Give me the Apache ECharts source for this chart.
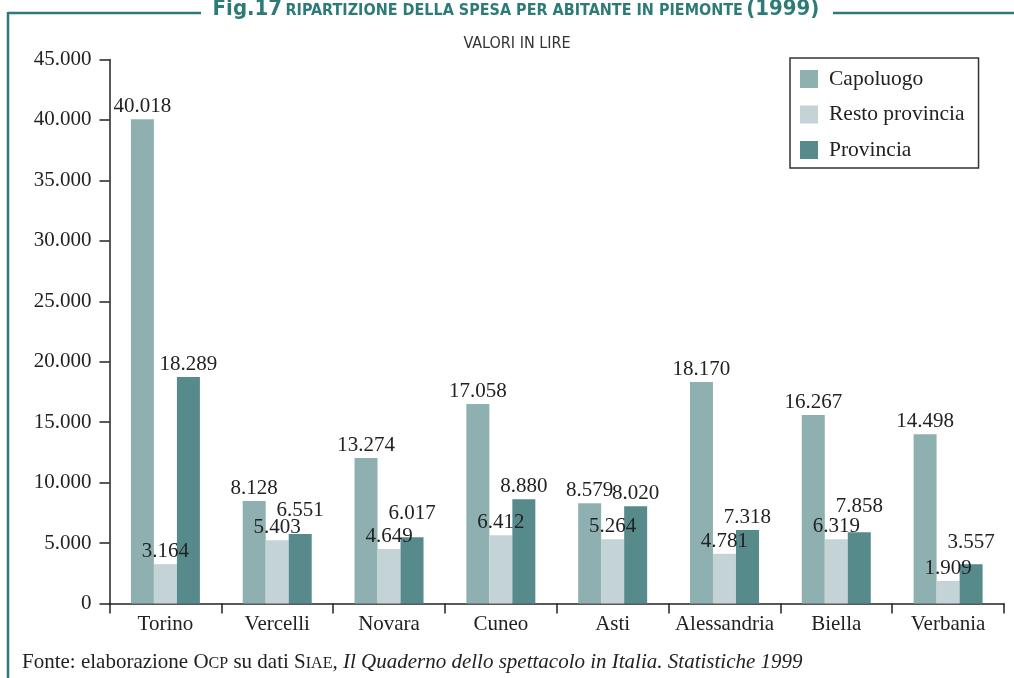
<!DOCTYPE html>
<html>
<head>
<meta charset="utf-8">
<script src="https://cdn.jsdelivr.net/npm/echarts@6/dist/echarts.min.js"></script>
<style>
  html, body { margin: 0; padding: 0; background: #ffffff; }
  #chart { width: 1014px; height: 678px; }
</style>
</head>
<body>
<div id="chart"></div>
<script>
// ---- Data ----
const categories = ['Torino', 'Vercelli', 'Novara', 'Cuneo', 'Asti', 'Alessandria', 'Biella', 'Verbania'];
const seriesNames = ['Capoluogo', 'Resto provincia', 'Provincia'];
// bar heights as drawn in the picture (lire)
const capoluogo = [40050, 8470, 12030, 16500, 8300, 18320, 15590, 14010];
const restoProvincia = [3250, 5240, 4500, 5650, 5320, 4110, 5320, 1870];
const provincia = [18730, 5740, 5490, 8630, 8050, 6070, 5900, 3250];
// printed value labels (lire)
const capoluogoLabels = [40018, 8128, 13274, 17058, 8579, 18170, 16267, 14498];
const restoProvinciaLabels = [3164, 5403, 4649, 6412, 5264, 4781, 6319, 1909];
const provinciaLabels = [18289, 6551, 6017, 8880, 8020, 7318, 7858, 3557];
const yTicks = [0, 5000, 10000, 15000, 20000, 25000, 30000, 35000, 40000, 45000];

// ---- Styling ----
const colors = ['#8fb0b1', '#c3d3d6', '#578b8b'];
const teal = '#2d7b78';
const ink = '#222222';
const serif = '"Liberation Serif", "DejaVu Serif", serif';
const cond = '"DejaVu Sans Condensed", "Liberation Sans Narrow", "Roboto", sans-serif';

function fmt(v) {
  return String(Math.round(v)).replace(/\B(?=(\d{3})+(?!\d))/g, '.');
}

const provLift = [0, 11, 11, 0, 0, 0, 13, 9];

function makeSeries(name, values, labels, color, lift) {
  return {
    name: name,
    type: 'bar',
    barWidth: 23,
    barGap: '0%',
    itemStyle: { color: color },
    data: values.map((v, i) => ({
      value: v,
      label: lift ? { offset: [0, -lift[i]] } : undefined
    })),
    label: {
      show: true,
      position: 'top',
      distance: 2,
      fontFamily: serif,
      fontSize: 21,
      color: ink,
      formatter: p => fmt(labels[p.dataIndex])
    }
  };
}

const chart = echarts.init(document.getElementById('chart'), null, { renderer: 'canvas' });

chart.setOption({
  backgroundColor: '#ffffff',
  animation: false,
  grid: { left: 109.5, right: 10, top: 59.5, bottom: 74.5, containLabel: false },
  legend: {
    orient: 'vertical',
    left: 790,
    top: 58,
    padding: [10, 14, 7, 10],
    itemWidth: 18,
    itemHeight: 18,
    itemGap: 13.5,
    borderColor: '#333333',
    borderWidth: 1.5,
    icon: 'rect',
    textStyle: { fontFamily: serif, fontSize: 21.5, color: ink, lineHeight: 20, padding: [0, 0, 0, 6] },
    data: seriesNames
  },
  xAxis: {
    type: 'category',
    data: categories,
    axisLine: { lineStyle: { color: '#222', width: 1.5 } },
    axisTick: { show: true, length: 10, lineStyle: { color: '#222', width: 1.5 } },
    axisLabel: { fontFamily: serif, fontSize: 21, color: ink, margin: 10, interval: 0 }
  },
  yAxis: {
    type: 'value',
    min: yTicks[0],
    max: yTicks[yTicks.length - 1],
    interval: 5000,
    splitLine: { show: false },
    axisLine: { show: true, lineStyle: { color: '#222', width: 1.5 } },
    axisTick: { show: true, length: 10, lineStyle: { color: '#222', width: 1.5 } },
    axisLabel: { fontFamily: serif, fontSize: 21, color: ink, margin: 18, formatter: v => fmt(v) }
  },
  series: [
    makeSeries(seriesNames[0], capoluogo, capoluogoLabels, colors[0], null),
    makeSeries(seriesNames[1], restoProvincia, restoProvinciaLabels, colors[1], null),
    makeSeries(seriesNames[2], provincia, provinciaLabels, colors[2], provLift)
  ],
  graphic: [
    { type: 'line', shape: { x1: 8, y1: 13, x2: 201, y2: 13 }, style: { stroke: teal, lineWidth: 2.5 } },
    { type: 'line', shape: { x1: 833, y1: 13, x2: 1014, y2: 13 }, style: { stroke: teal, lineWidth: 2.5 } },
    { type: 'line', shape: { x1: 8, y1: 12, x2: 8, y2: 678 }, style: { stroke: teal, lineWidth: 2.5 } },
    {
      type: 'text', x: 516, y: 9,
      style: {
        text: '{a|Fig.17} {b|RIPARTIZIONE DELLA SPESA PER ABITANTE IN PIEMONTE} {a|(1999)}',
        align: 'center', verticalAlign: 'middle',
        rich: {
          a: { fontFamily: cond, fontWeight: 'bold', fontSize: 22, fill: teal, color: teal, verticalAlign: 'bottom' },
          b: { fontFamily: cond, fontWeight: 'bold', fontSize: 16, fill: teal, color: teal, verticalAlign: 'bottom', padding: [0, 0, 1, 0] }
        }
      }
    },
    {
      type: 'text', x: 517, y: 44,
      style: { text: 'VALORI IN LIRE', align: 'center', verticalAlign: 'middle', fontFamily: cond, fontSize: 16, fill: '#333' }
    },
    {
      type: 'text', x: 22, y: 662,
      style: {
        text: '{n|Fonte: elaborazione O}{s|CP}{n| su dati S}{s|IAE}{n|, }{i|Il Quaderno dello spettacolo in Italia. Statistiche 1999}',
        align: 'left', verticalAlign: 'middle',
        rich: {
          n: { fontFamily: serif, fontSize: 21, fill: ink, color: ink, verticalAlign: 'bottom' },
          s: { fontFamily: serif, fontSize: 16, fill: ink, color: ink, verticalAlign: 'bottom', padding: [0, 0, 1, 0] },
          i: { fontFamily: serif, fontSize: 21, fontStyle: 'italic', fill: ink, color: ink, verticalAlign: 'bottom' }
        }
      }
    }
  ]
});
</script>
</body>
</html>
